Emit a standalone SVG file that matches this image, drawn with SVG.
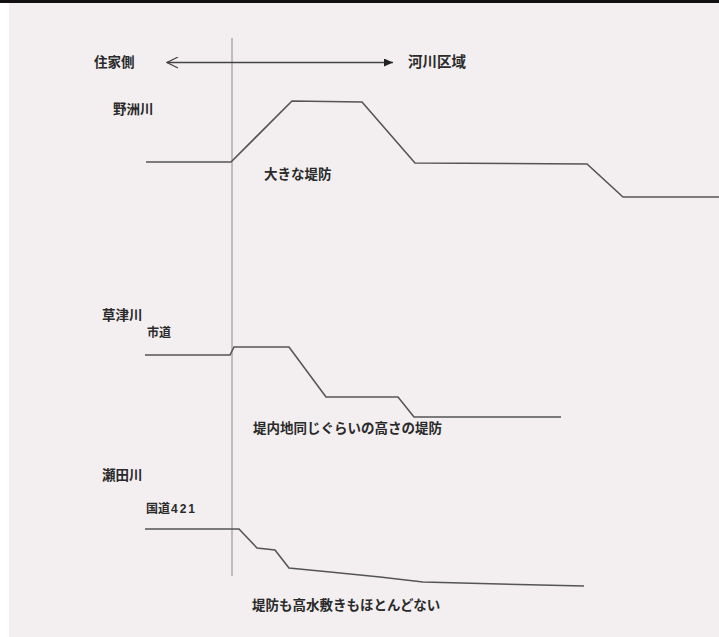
<svg xmlns="http://www.w3.org/2000/svg" width="719" height="637" viewBox="0 0 719 637">
<style>
.t{font-family:"Liberation Sans","Noto Sans CJK JP",sans-serif;font-weight:bold;fill:#2a2a2a;font-size:13.5px}
.s{font-size:12px}
.p{fill:none;stroke:#555;stroke-width:1.6;stroke-linejoin:miter}
.v{stroke:#888;stroke-width:1}
</style>
<defs>
<marker id="fa" markerWidth="10" markerHeight="10" refX="9" refY="4" orient="auto" markerUnits="userSpaceOnUse">
<path d="M0,0 L9,4 L0,8 Z" fill="#222"/>
</marker>
<marker id="oa" markerWidth="14" markerHeight="14" refX="1" refY="6" orient="auto" markerUnits="userSpaceOnUse">
<path d="M12,0.5 L1,6 L12,11.5" fill="none" stroke="#444" stroke-width="1.2"/>
</marker>
</defs>
<rect x="0" y="0" width="719" height="637" fill="#fff"/>
<rect x="9" y="0" width="710" height="637" fill="#f3eff0"/>
<rect x="0" y="0" width="719" height="3" fill="#111"/>
<g id="connectors">
<line class="v" x1="232" y1="38" x2="232" y2="576"/>
<line x1="167" y1="62.5" x2="393" y2="62.5" stroke="#444" stroke-width="1.3" marker-start="url(#oa)" marker-end="url(#fa)"/>
</g>
<g id="labels">
<text class="t" x="94" y="67">住家側</text>
<text class="t" x="408" y="67" style="font-size:14.5px">河川区域</text>
</g>
<g id="yasu">
<text class="t" x="113" y="114">野洲川</text>
<polyline class="p" points="146,162 231,162 292,101 362,102 415,163 587,164 623,197 719,197"/>
<text class="t" x="264" y="179">大きな堤防</text>
</g>
<g id="kusatsu">
<text class="t" x="102" y="320">草津川</text>
<text class="t s" x="147" y="337">市道</text>
<polyline class="p" points="145,355 230,355 234,347 289,347 326,397 398,397 414,417 561,417"/>
<text class="t" x="253" y="433">堤内地同じぐらいの高さの堤防</text>
</g>
<g id="seta">
<text class="t" x="102" y="480">瀬田川</text>
<text class="t s" x="146" y="513">国道<tspan dx="1" letter-spacing="2">421</tspan></text>
<polyline class="p" points="145,529 239,529 257,548 275,550 289,568 330,572 380,577 423,582 500,584 584,586"/>
<text class="t" x="252" y="610">堤防も高水敷きもほとんどない</text>
</g>
</svg>
